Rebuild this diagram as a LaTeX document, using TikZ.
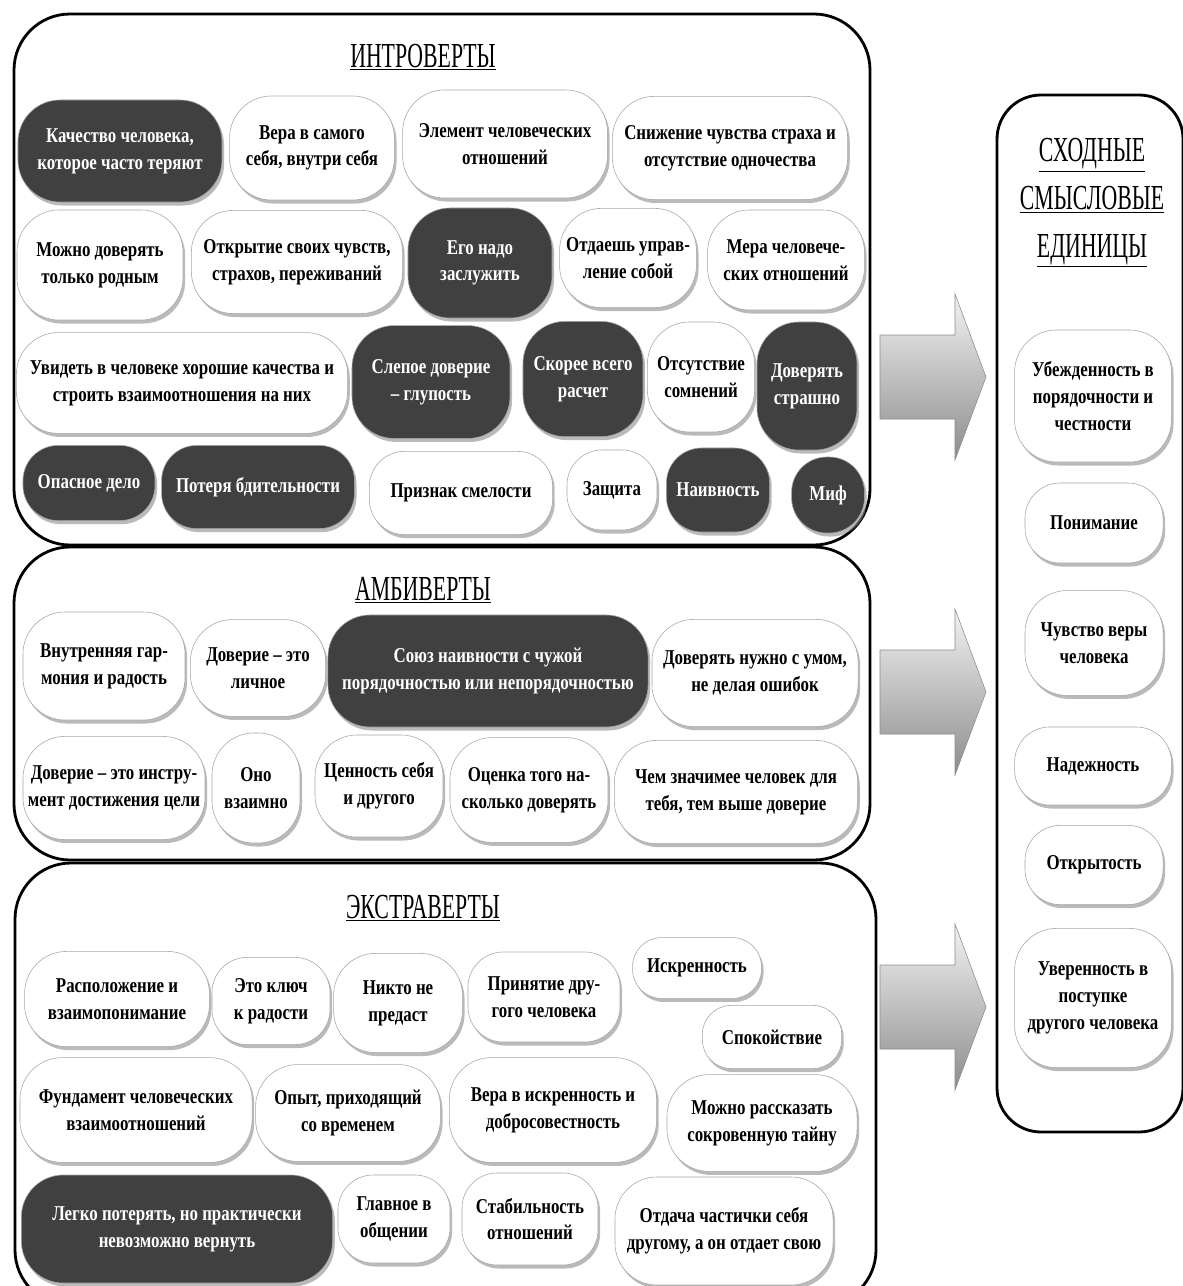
\documentclass[tikz,border=0pt]{standalone}
\usepackage{fontspec}
\setmainfont{Liberation Serif}[FakeStretch=0.8]
\newfontfamily\headfont{Liberation Serif}[FakeStretch=0.62]
\usetikzlibrary{shadows}

\tikzset{
  panel/.style={draw=black, line width=2pt, rounded corners=1.4cm},
  cell/.style={draw=black!35, fill=white, text=black, rounded corners=1.05cm,
    align=center, inner sep=2pt, font=\bfseries\fontsize{15}{19}\selectfont,
    drop shadow={shadow xshift=1.5pt, shadow yshift=-2.5pt, fill=black!45, opacity=0.6}},
  darkcell/.style={cell, fill=black!75, text=white},
  slim/.style={rounded corners=0.88cm},
  thin/.style={rounded corners=0.72cm},
  cellsize/.style 2 args={minimum width=#1cm, minimum height=#2cm},
  headline/.style={font=\headfont\fontsize{25}{34}\selectfont, align=center},
  blockarrow/.style={draw=black!45, top color=black!5, bottom color=black!45}
}

\begin{document}
\begin{tikzpicture}[x=0.025cm, y=-0.025cm]
  \path[use as bounding box, fill=white] (0,0) rectangle (1182,1286);

  % groups
  \draw[panel] (14,14) rectangle (870,545);
  \draw[panel] (14,547) rectangle (870,860);
  \draw[panel] (15,863) rectangle (876,1306);
  \draw[panel, rounded corners=1.1cm] (997,95) rectangle (1183,1132);

  \node[headline] (intro) at (423,57) {\underline{ИНТРОВЕРТЫ}};
  \node[headline] (ambi) at (423,590) {\underline{АМБИВЕРТЫ}};
  \node[headline] (extra) at (423,908) {\underline{ЭКСТРАВЕРТЫ}};
  \node[headline] (common) at (1092,203) {\underline{СХОДНЫЕ}\\\underline{СМЫСЛОВЫЕ}\\\underline{ЕДИНИЦЫ}};

  % arrows to the common units
  \foreach \c in {377,692,1007}
    \draw[blockarrow] (880,\c-42) -- (955,\c-42) -- (955,\c-83) -- (986,\c)
      -- (955,\c+83) -- (955,\c+42) -- (880,\c+42) -- cycle;

  % introverts
  \node[darkcell, cellsize={5.1}{2.55}] (i1) at (120,151) {Качество человека,\\которое часто теряют};
  \node[cell, cellsize={4.12}{2.6}] (i2) at (312,148) {Вера в самого\\себя, внутри себя};
  \node[cell, cellsize={5.12}{2.7}] (i3) at (505,144) {Элемент человеческих\\отношений};
  \node[cell, cellsize={5.88}{2.58}] (i4) at (730,148) {Снижение чувства страха и\\отсутствие одночества};
  \node[cell, cellsize={4.15}{2.75}] (i5) at (100,265) {Можно доверять\\только родным};
  \node[cell, cellsize={5.28}{2.58}] (i6) at (297,262) {Открытие своих чувств,\\страхов, переживаний};
  \node[darkcell, cellsize={3.6}{2.75}] (i7) at (480,263) {Его надо\\заслужить};
  \node[cell, cellsize={3.42}{2.48}] (i8) at (628,258) {Отдаешь управ-\\ление собой};
  \node[cell, cellsize={3.92}{2.5}] (i9) at (786,260) {Мера человече-\\ских отношений};
  \node[cell, cellsize={8.28}{2.52}] (i10) at (182,383) {Увидеть в человеке хорошие качества и\\строить взаимоотношения на них};
  \node[darkcell, cellsize={3.95}{2.82}] (i11) at (431,382) {Слепое доверие\\– глупость};
  \node[darkcell, cellsize={3.0}{2.88}] (i12) at (583,379) {Скорее всего\\расчет};
  \node[cell, cellsize={2.68}{2.75}] (i13) at (701,377) {Отсутствие\\сомнений};
  \node[darkcell, cellsize={2.5}{3.2}] (i14) at (807,386) {Доверять\\страшно};
  \node[darkcell, slim, cellsize={3.3}{1.88}] (i15) at (89,483) {Опасное дело};
  \node[darkcell, slim, cellsize={4.82}{2.08}] (i16) at (258,487) {Потеря бдительности};
  \node[cell, slim, cellsize={4.58}{2.08}] (i17) at (461,493) {Признак смелости};
  \node[cell, slim, cellsize={2.25}{2.0}] (i18) at (612,490) {Защита};
  \node[darkcell, slim, cellsize={2.58}{2.1}] (i19) at (718,490) {Наивность};
  \node[darkcell, slim, cellsize={1.82}{1.9}] (i20) at (828,495) {Миф};

  % ambiverts
  \node[cell, cellsize={4.05}{2.7}] (a1) at (104,666) {Внутренняя гар-\\мония и радость};
  \node[cell, cellsize={3.38}{2.42}] (a2) at (258,668) {Доверие – это\\личное};
  \node[darkcell, cellsize={8.0}{2.8}] (a3) at (488,671) {Союз наивности с чужой\\порядочностью или непорядочностью};
  \node[cell, cellsize={5.15}{2.68}] (a4) at (755,673) {Доверять нужно с умом,\\не делая ошибок};
  \node[cell, cellsize={4.55}{2.58}] (a5) at (114,788) {Доверие – это инстру-\\мент достижения цели};
  \node[cell, cellsize={2.2}{2.75}] (a6) at (256,788) {Оно\\взаимно};
  \node[cell, cellsize={3.2}{2.55}] (a7) at (379,786) {Ценность себя\\и другого};
  \node[cell, cellsize={3.95}{2.62}] (a8) at (529,790) {Оценка того на-\\сколько доверять};
  \node[cell, cellsize={6.08}{2.58}] (a9) at (736,792) {Чем значимее человек для\\тебя, тем выше доверие};

  % extraverts
  \node[cell, cellsize={4.62}{2.38}] (e1) at (117,999) {Расположение и\\взаимопонимание};
  \node[cell, slim, cellsize={2.95}{2.18}] (e2) at (271,1001) {Это ключ\\к радости};
  \node[cell, cellsize={3.22}{2.48}] (e3) at (398,1003) {Никто не\\предаст};
  \node[cell, slim, cellsize={3.8}{2.25}] (e4) at (544,997) {Принятие дру-\\гого человека};
  \node[cell, thin, cellsize={3.22}{1.52}] (e5) at (697,968) {Искренность};
  \node[cell, thin, cellsize={3.48}{1.58}] (e6) at (772,1037) {Спокойствие};
  \node[cell, cellsize={5.8}{2.62}] (e7) at (136,1110) {Фундамент человеческих\\взаимоотношений};
  \node[cell, cellsize={4.62}{2.42}] (e8) at (348,1113) {Опыт, приходящий\\со временем};
  \node[cell, cellsize={5.18}{2.62}] (e9) at (553,1110) {Вера в искренность и\\добросовестность};
  \node[cell, cellsize={4.75}{2.42}] (e10) at (762,1123) {Можно рассказать\\сокровенную тайну};
  \node[darkcell, cellsize={7.78}{2.7}] (e11) at (177,1229) {Легко потерять, но практически\\невозможно вернуть};
  \node[cell, slim, cellsize={2.8}{2.2}] (e12) at (394,1219) {Главное в\\общении};
  \node[cell, slim, cellsize={3.4}{2.3}] (e13) at (530,1219) {Стабильность\\отношений};
  \node[cell, cellsize={5.45}{2.7}] (e14) at (724,1231) {Отдача частички себя\\другому, а он отдает свою};

  % common units
  \node[cell, cellsize={3.92}{3.3}] (r1) at (1093,396) {Убежденность в\\порядочности и\\честности};
  \node[cell, slim, cellsize={3.45}{2.0}] (r2) at (1094,523) {Понимание};
  \node[cell, cellsize={3.45}{2.62}] (r3) at (1094,643) {Чувство веры\\человека};
  \node[cell, slim, cellsize={3.92}{1.95}] (r4) at (1093,766) {Надежность};
  \node[cell, slim, cellsize={3.45}{1.98}] (r5) at (1094,865) {Открытость};
  \node[cell, cellsize={3.92}{3.48}] (r6) at (1093,998) {Уверенность в\\поступке\\другого человека};
\end{tikzpicture}
\end{document}
